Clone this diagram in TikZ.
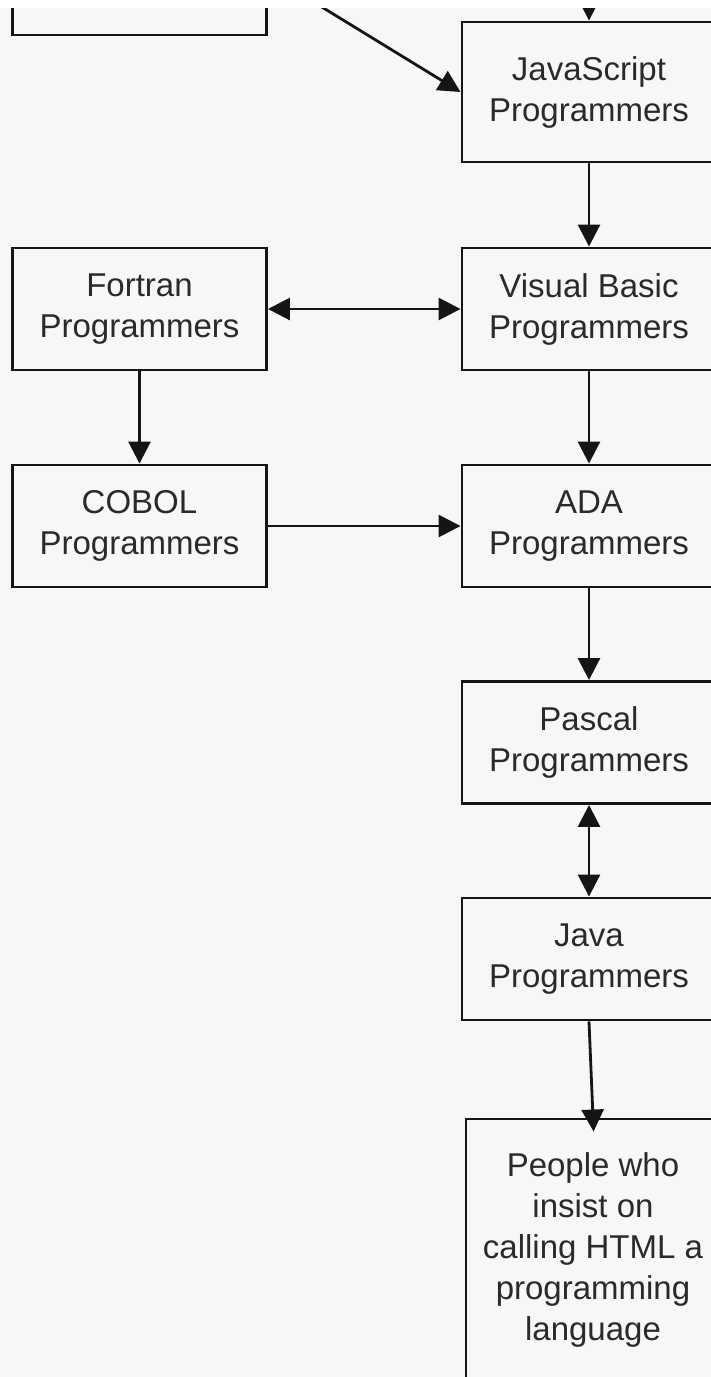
\documentclass[tikz,border=0pt]{standalone}
\usepackage{fontspec}
\setmainfont{Liberation Sans}
\usetikzlibrary{arrows.meta}
\definecolor{bg}{HTML}{F7F7F7}
\definecolor{ink}{HTML}{151515}
\definecolor{txt}{HTML}{2A2A2A}
\tikzset{
  prog/.style={draw=ink, line width=2.9pt, text=txt, minimum width=254pt,
    minimum height=122pt, align=center, inner sep=0pt,
    font=\fontsize{33}{41}\selectfont},
  link/.style={draw=ink, line width=2.8pt, -{Triangle[length=22pt,width=22pt]}},
  both/.style={link, {Triangle[length=22pt,width=22pt]}-{Triangle[length=22pt,width=22pt]}}
}
\begin{document}
\begin{tikzpicture}[x=1pt,y=-1pt]
  \pgfmathsetmacro{\l}{139.5}
  \pgfmathsetmacro{\r}{589}
  \useasboundingbox (0,0) rectangle (711,1377);
  \clip (0,0) rectangle (711,1377);
  \fill[bg] (0,0) rectangle (711,1377);

  \node[prog] (prev) at (\l,-26) {};
  \coordinate (up) at (\r,-20);
  \node[prog, minimum height=140pt] (js) at (\r,92) {JavaScript\\Programmers};
  \node[prog] (fortran) at (\l,309) {Fortran\\Programmers};
  \node[prog] (vb) at (\r,309) {Visual Basic\\Programmers};
  \node[prog] (cobol) at (\l,526) {COBOL\\Programmers};
  \node[prog] (ada) at (\r,526) {ADA\\Programmers};
  \node[prog] (pascal) at (\r,742.5) {Pascal\\Programmers};
  \node[prog] (java) at (\r,959) {Java\\Programmers};
  \node[prog, minimum height=262pt] (html) at (593,1250)
    {People who\\insist on\\calling HTML a\\programming\\language};

  \draw[link] (up) -- (js.north);
  \draw[link] (prev.east) -- (js.west);
  \draw[link] (js) -- (vb);
  \draw[both] (fortran) -- (vb);
  \draw[link] (fortran) -- (cobol);
  \draw[link] (vb) -- (ada);
  \draw[link] (cobol) -- (ada);
  \draw[link] (ada) -- (pascal);
  \draw[both] (pascal) -- (java);
  \draw[link, shorten >=-14pt] (java.south) -- (html.north);

  \fill[white] (0,0) rectangle (711,8);
\end{tikzpicture}
\end{document}
